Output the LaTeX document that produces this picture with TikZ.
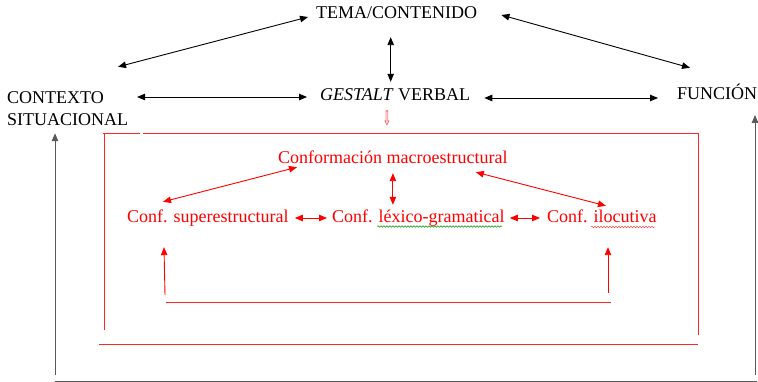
\documentclass[tikz,border=0pt]{standalone}
\usepackage{fontspec}
\setmainfont{Liberation Serif}
\newfontfamily\symfont{DejaVu Sans}
\usetikzlibrary{arrows.meta,calc,decorations.pathmorphing}
\begin{document}
\begin{tikzpicture}[x=1pt,y=-1pt,
  lbl/.style={inner sep=0pt,text height=12pt,text depth=4pt,font=\fontsize{18}{21}\selectfont,anchor=base west},
  rlbl/.style={lbl,text=red},
  tipb/.tip={Triangle[length=8pt,width=6.5pt]},
  barr/.style={tipb-tipb,line width=0.9pt,black},
  rarr/.style={tipb-tipb,line width=0.9pt,red},
  rup/.style={-tipb,line width=0.9pt,red},
  rline/.style={line width=0.8pt,red!85},
  gline/.style={line width=1pt,black!65},
  gup/.style={gline,-{Triangle[length=8pt,width=6.5pt]}},
  squig/.style={decorate,decoration={snake,amplitude=0.8pt,segment length=3pt},line width=0.5pt}]
\useasboundingbox (0,0) rectangle (758,382);

% black labels
\node[lbl] (tema) at (316,19) {TEMA/CONTENIDO};
\node[lbl] (ctx) at (7,104) {CONTEXTO};
\node[lbl] (sit) at (7,126) {SITUACIONAL};
\node[lbl] (gest) at (320,101) {\textit{GESTALT} VERBAL};
\node[lbl] (fun) at (677,100) {FUNCIÓN};

% red labels
\node[rlbl] (macro) at (278,164) {Conformación macroestructural};
\node[rlbl] (sup) at (127,223) {Conf. superestructural};
\node[rlbl] (lex) at (332,223) {Conf. léxico-gramatical};
\node[rlbl] (ilo) at (547,223) {Conf. ilocutiva};
\node[inner sep=0pt,text=red!80] (darr) at (387,118) {\scalebox{0.5}[1]{\symfont\fontsize{20}{20}\selectfont ⇩}};

% black connectors
\draw[barr] ($(tema.west)+(-8,2)$) -- ($(ctx.north east)+(14,-25)$);
\draw[barr] ($(tema.east)+(24,0)$) -- ($(fun.north west)+(13,-20)$);
\draw[barr] ($(tema.south)+(-6,14)$) coordinate (tv) -- ($(tv |- gest.north)+(0,-7)$);
\draw[barr] ($(gest.west)+(-13,0)$) coordinate (g1) -- ($(g1 -| ctx.east)+(33,0)$);
\draw[barr] ($(gest.east)+(14,1)$) coordinate (g2) -- ($(g2 -| fun.west)+(-19,0)$);

% red connectors
\draw[rarr] ($(macro.south west)+(19,-1)$) -- ($(sup.north west)+(36,-9)$);
\draw[rarr] ($(macro.south)+(0,5)$) coordinate (m1) -- ($(m1 |- lex.north)+(0,-6)$);
\draw[rarr] ($(macro.south east)+(-32,4)$) -- ($(ilo.north)+(4,-5)$);
\draw[rarr] ($(sup.east)+(6,-1)$) coordinate (s1) -- ($(s1 -| lex.west)+(-5,0)$);
\draw[rarr] ($(lex.east)+(5,-1)$) coordinate (s2) -- ($(s2 -| ilo.west)+(-7,0)$);

% red frame
\draw[rline] (103,133) -- (140,133);
\draw[rline] (143,133) -- (699,133);
\draw[rline] (104,133) -- (104,330);
\draw[rline] (698,133) -- (698,335);
\draw[rline] (99,344) -- (698,344);
\draw[rline] (166,302) -- (611,302);
\draw[rup] ($(sup.south west)+(38,68)$) -- ($(sup.south west)+(37,20)$);
\draw[rup] ($(ilo.south west)+(61,66)$) -- ($(ilo.south west)+(61,20)$);

% spell-check underlines
\draw[squig,green!60!black] (377,226.5) -- (502,226.5);
\draw[squig,red!70] (591,227) -- (655,227);

% outer grey frame
\draw[gup] (55,375) -- ($(sit.south west)+(48,3)$);
\draw[gup] (755,375) -- (755,115);
\draw[gline] (55,381) -- (757,381);
\end{tikzpicture}
\end{document}
